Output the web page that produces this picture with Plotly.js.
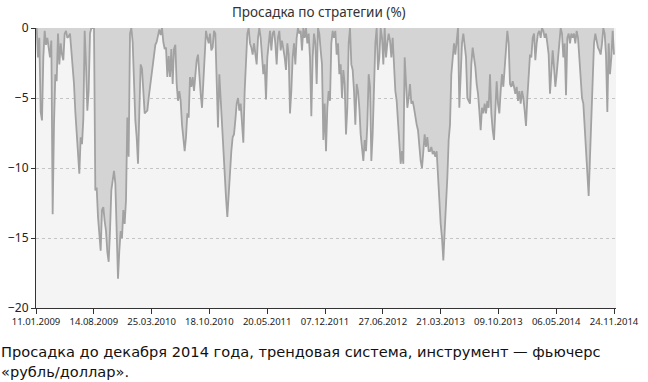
<!DOCTYPE html>
<html>
<head>
<meta charset="utf-8">
<script src="https://cdn.plot.ly/plotly-3.0.1.min.js"></script>
<style>html,body{margin:0;padding:0;background:#fff;}#chart{width:648px;height:382px;}</style>
</head>
<body>
<div id="chart"></div>
<script>
// Drawdown (%), in four consecutive stretches of trading days
var drawdown2009 = [0,-2.1,-0.7,-6.0,-6.6,-2.1,-0.2,-1.2,-0.7,-1.5,-2.1,-0.9,-13.3,-6.9,-3.3,-3.8,-0.4,-2.6,-1.1,-1.9,-2.3,-0.4,-0.2,-0.7,-0.6,-0.4,-1.6,-2.6,-4.0,-6.0,-7.5,-8.2,-10.4,-7.8,-8.3,-6.5,-0.2,-2.6,-5.9,-4.5,-0.4,0,0,0,-11.6,-11.4,-13.5,-14.5,-15.9,-13.0,-12.8,-13.8,-14.5,-16.0,-16.7,-14.5,-11.6,-10.9,-10.2,-11.1,-15.2,-17.9,-15.9,-14.5,-15.0,-13.0,-14.0,-12.3,-6.4,-9.2,-0.4,0,-1.0,-4.0,-6.6,-7.8,-9.7,-6.0,-2.6,-2.9,-5.0,-6.1,-6.0,-5.9,-5.0,-4.2,-3.3,-2.4,-1.8,-1.2,-1.0,-0.6,-0.1,-0.5,0,-1.0,-1.5,-1.4,-3.5,-2.0,-3.5,-1.5,-4.0,-1.5,-1.2,-4.0,-5.2,-4.5];
var drawdown2011 = [-5.2,-6.9,-7.8,-8.8,-7.8,-6.1,-6.4,-3.5,-4.2,-3.5,-4.5,-3.0,-2.3,-1.9,-3.5,-4.7,-5.7,-3.8,-2.8,-0.2,-0.7,-1.1,-0.4,-1.6,-1.4,-0.2,-0.4,-4.0,-7.1,-3.3,-5.2,-6.9,-8.8,-10.4,-12.1,-13.5,-11.6,-9.7,-8.8,-7.8,-7.6,-6.6,-5.4,-5.0,-5.9,-5.4,-6.9,-8.2,-4.5,-2.1,-0.4,0,-1.1,-1.4,-1.9,-1.1,-2.1,-2.6,-0.7,0,-0.7,-1.9,-3.3,-2.6,-5.1,-2.1,-1.1,-0.2,-1.6,-0.4,-0.2,-1.1,-2.6,-0.7,-0.2,-1.6,-0.9,-1.4,-2.1,-3.0,-1.1,-1.9,-6.1,-4.5,-2.1,-1.1,-2.6,-0.7,0,-0.4,-0.2,-1.6,0,-0.7,0,-1.1,-0.4,-2.1,-6.3,-2.1,-0.4,-1.1,-4.0,0,-0.4,-1.6,-2.6,-8.0];
var drawdown2012 = [-5.4,-8.8,-5.7,-4.5,-5.2,-1.1,-0.2,-0.7,-0.2,-1.9,-1.1,-3.3,-2.6,-5.0,-3.0,-4.0,-7.6,-5.7,-1.1,0,-2.6,-3.0,-4.5,-6.9,-4.0,-4.5,-5.7,-7.6,-8.5,-9.5,-8.0,-8.8,-6.9,-3.3,-4.2,-9.5,-7.6,-4.5,-1.1,0,-3.0,-2.1,0,-0.7,-2.6,0,-2.1,-1.1,-0.4,-0.9,-2.1,-0.7,-3.3,-4.5,-5.2,-6.9,-8.0,-9.7,-8.8,-9.7,-2.1,-4.5,-5.7,-5.0,-4.0,-5.4,-5.2,-5.7,-6.4,-6.9,-7.3,-8.8,-9.5,-10.0,-9.0,-7.6,-8.5,-7.8,-8.8,-8.8,-8.5,-9.0,-8.8,-9.2,-8.8,-10.9,-13.0,-14.0,-15.0,-16.6,-14.5,-12.8,-10.7,-8.0,-6.9,-3.3,-2.3,-1.1,-1.9,-0.7,0,-5.7,-2.6,-1.1,-0.4,-1.1,-2.1,-5.0];
var drawdown2014 = [-5.2,-5.4,-2.6,-1.4,-2.1,-2.8,-4.0,-4.7,-5.9,-7.3,-5.7,-6.1,-5.4,-6.1,-5.2,-5.7,-3.3,-6.1,-7.3,-8.0,-5.9,-3.8,-5.4,-6.1,-4.5,-3.3,-4.2,-3.0,-1.6,-0.2,-1.1,-4.0,-4.2,-3.8,-4.2,-4.7,-4.2,-5.2,-4.5,-5.4,-4.5,-5.0,-5.9,-7.0,-5.0,-3.3,-1.9,-2.1,-0.7,-0.4,-2.3,-1.1,-0.4,-0.2,-0.7,0,-0.2,-0.7,-0.4,-1.1,-1.9,-4.7,-3.0,-1.6,-2.8,-4.2,-3.3,-1.9,-1.1,0,-0.4,-2.1,-1.1,-4.8,-0.7,-0.4,-1.1,-0.4,-0.7,-0.4,-1.1,-0.2,-0.7,-2.1,-3.3,-5.0,-5.4,-7.3,-8.8,-10.4,-12.0,-9.2,-6.9,-4.5,-1.1,-0.4,-1.1,-1.4,-1.6,-1.9,-1.1,0,-0.4,-1.9,-6.0,-1.1,-3.3,-2.1,-0.2,-1.9];
var dateLabels = ["11.01.2009","14.08.2009","25.03.2010","18.10.2010","20.05.2011","07.12.2011","27.06.2012","21.03.2013","09.10.2013","06.05.2014","24.11.2014"];
var yTicks = [0,-5,-10,-15,-20];
var titleText = "Просадка по стратегии (%)";
var captionLines = ["Просадка до декабря 2014 года, трендовая система, инструмент — фьючерс", "«рубль/доллар»."];

var values = drawdown2009.concat(drawdown2011, drawdown2012, drawdown2014);
var idx = values.map(function(_, i){ return i; });
var n = values.length;
var xr = [-0.5, n + 0.5];
var tickStep = (n - 1 + 0.5) / (dateLabels.length - 1);
var tickvals = dateLabels.map(function(_, k){ return -0.5 + k * tickStep; });

var font = "'Noto Sans', 'DejaVu Sans', sans-serif";
var capFont = "'DejaVu Sans', 'Noto Sans', sans-serif";
var captionY = [-0.157, -0.225];

Plotly.newPlot('chart', [{
  x: idx, y: values, type: 'scatter', mode: 'lines',
  fill: 'tozeroy', fillcolor: '#d4d4d4',
  line: {color: '#a2a2a2', width: 1.8},
  hoverinfo: 'skip'
}], {
  width: 648, height: 382,
  margin: {l: 36, r: 32, t: 28, b: 74},
  paper_bgcolor: '#ffffff', plot_bgcolor: '#f4f4f4',
  font: {family: font, color: '#222'},
  showlegend: false,
  title: {text: titleText, font: {family: font, size: 13.5, color: '#333'}, x: 0.492, xref: 'container', y: 0.968, yref: 'container', yanchor: 'middle'},
  xaxis: {range: xr, tickmode: 'array', tickvals: tickvals, ticktext: dateLabels,
    showline: true, linecolor: '#333', linewidth: 1, ticks: 'outside', ticklen: 5, tickcolor: '#333',
    showgrid: false, zeroline: false, tickfont: {size: 9.5, color: '#222'}, fixedrange: true},
  yaxis: {range: [-20, 0], tickmode: 'array', tickvals: yTicks,
    showline: true, linecolor: '#333', linewidth: 1, ticks: 'outside', ticklen: 4, tickcolor: '#333',
    showgrid: true, gridcolor: '#c4c4c4', griddash: 'dot', gridwidth: 1, zeroline: false,
    tickfont: {size: 12, color: '#222'}, fixedrange: true},
  annotations: captionLines.map(function(t, i){
    return {text: t, xref: 'paper', yref: 'paper', x: -0.062, y: captionY[i],
      xanchor: 'left', yanchor: 'middle', align: 'left', showarrow: false, borderpad: 0,
      font: {family: capFont, size: 14.6, color: '#111'}};
  })
}, {staticPlot: true, displayModeBar: false});
</script>
</body>
</html>
